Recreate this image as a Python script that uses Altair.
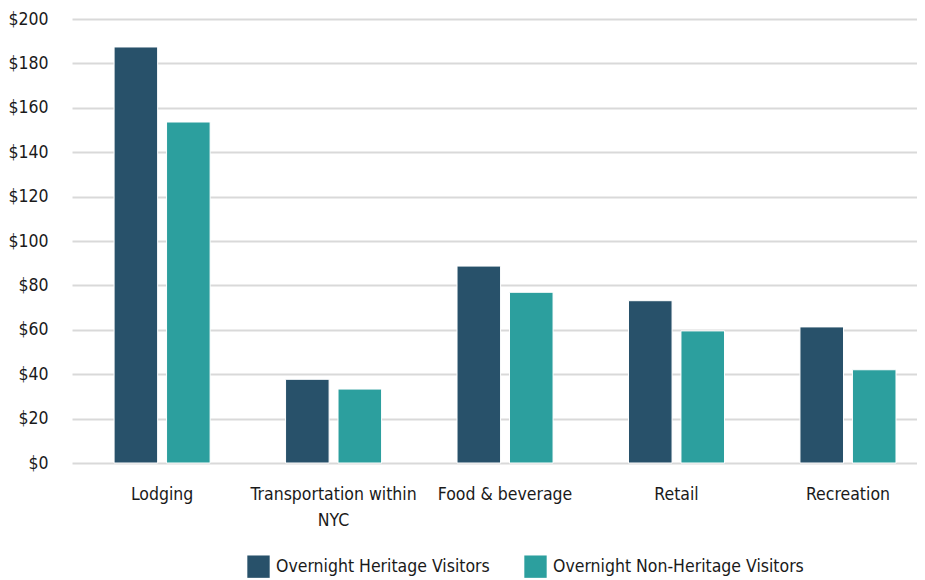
import altair as alt
import pandas as pd

categories = ["Lodging", "Transportation within|NYC", "Food & beverage", "Retail", "Recreation"]
series = ["Overnight Heritage Visitors", "Overnight Non-Heritage Visitors"]
heritage = [187.4, 37.7, 88.7, 73.1, 61.3]
non_heritage = [153.6, 33.3, 76.9, 59.5, 42.0]
colors = ["#28516A", "#2C9F9E"]

rows = []
for c, h, n in zip(categories, heritage, non_heritage):
    rows.append({"category": c, "series": series[0], "value": h})
    rows.append({"category": c, "series": series[1], "value": n})
df = pd.DataFrame(rows)

FONT = "Liberation Sans Narrow, DejaVu Sans Condensed, Roboto Condensed, Roboto, sans-serif"

chart = alt.Chart(df).mark_bar(stroke="white", strokeWidth=1).encode(
    x=alt.X("category:N", sort=categories, title=None,
            scale=alt.Scale(paddingInner=0.44, paddingOuter=0.184, align=0.667),
            axis=alt.Axis(labelAngle=0, labelExpr="split(datum.label, '|')",
                          labelPadding=22, labelFontSize=17.5, labelColor="#1a1a1a",
                          labelLineHeight=26, ticks=False, domain=False, labelFont=FONT)),
    xOffset=alt.XOffset("series:N", sort=series, scale=alt.Scale(paddingInner=0.17)),
    y=alt.Y("value:Q", title=None,
            scale=alt.Scale(domain=[0, 200]),
            axis=alt.Axis(values=list(range(0, 201, 20)), format="$,.0f",
                          labelFontSize=17.5, labelColor="#1a1a1a", labelPadding=24,
                          ticks=False, domain=False, gridColor="#d9d9d9",
                          gridWidth=2, labelFont=FONT)),
    color=alt.Color("series:N", sort=series, title=None,
                    scale=alt.Scale(domain=series, range=colors),
                    legend=alt.Legend(orient="none", legendX=175, legendY=536,
                                      direction="horizontal", symbolType="square",
                                      symbolSize=500, symbolStrokeWidth=0,
                                      labelFontSize=17.5, labelFont=FONT,
                                      labelColor="#1a1a1a", columnPadding=34,
                                      labelOffset=6, labelLimit=400)),
).properties(
    width=845, height=444,
    padding={"left": 64, "top": 11, "right": 0, "bottom": 117},
    autosize=alt.AutoSizeParams(type="none"),
).configure_view(stroke=None)

chart.save("out.html", embed_options={"renderer": "svg", "actions": False})
